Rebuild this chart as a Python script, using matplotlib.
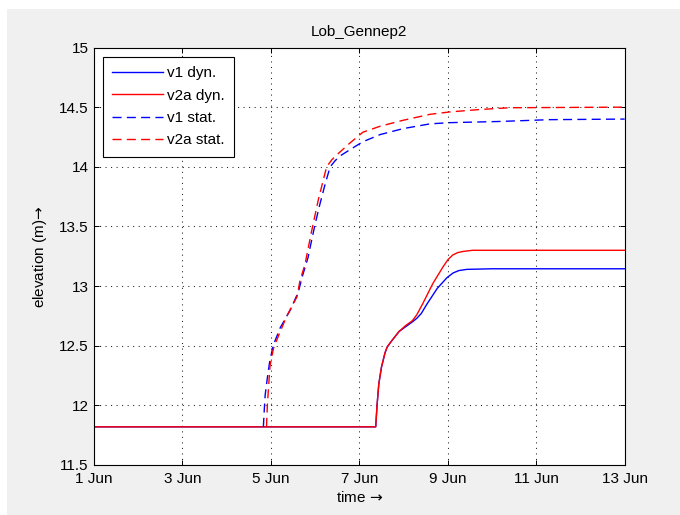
import matplotlib
matplotlib.use("Agg")
import matplotlib.pyplot as plt
from matplotlib.patches import Rectangle
import numpy as np

plt.rcParams['font.family'] = ['Liberation Sans', 'DejaVu Sans']

title = "Lob_Gennep2"
xlabel = "time $\\!\\rightarrow$"
ylabel = "elevation (m)$\\!\\rightarrow$"
xtick_days = [0, 2, 4, 6, 8, 10, 12]
xtick_labels = ["1 Jun", "3 Jun", "5 Jun", "7 Jun", "9 Jun", "11 Jun", "13 Jun"]
ytick_vals = [11.5, 12, 12.5, 13, 13.5, 14, 14.5, 15]
ytick_labels = ["11.5", "12", "12.5", "13", "13.5", "14", "14.5", "15"]

# days after 1 Jun
v1_dyn_t = [0, 6.37, 6.40, 6.44, 6.50, 6.58, 6.63, 6.75, 6.90, 7.05, 7.20, 7.30, 7.40,
            7.53, 7.76, 7.98, 8.12, 8.25, 8.43, 9.0, 12.0]
v1_dyn_h = [11.82, 11.82, 12.00, 12.18, 12.32, 12.44, 12.49, 12.55, 12.62, 12.66, 12.70, 12.73, 12.77,
            12.85, 12.98, 13.07, 13.11, 13.13, 13.14, 13.145, 13.145]

v2a_dyn_t = [0, 6.37, 6.40, 6.44, 6.50, 6.58, 6.63, 6.75, 6.90, 7.05, 7.20, 7.30, 7.43,
             7.66, 7.89, 8.00, 8.11, 8.22, 8.34, 8.56, 12.0]
v2a_dyn_h = [11.82, 11.82, 12.00, 12.18, 12.32, 12.44, 12.49, 12.55, 12.62, 12.67, 12.71, 12.76, 12.85,
             13.02, 13.16, 13.22, 13.26, 13.28, 13.29, 13.30, 13.30]

v1_stat_t = [3.83, 3.85, 3.87, 3.92, 3.97, 4.05, 4.21, 4.44, 4.62, 4.71, 4.84, 4.89,
             5.00, 5.11, 5.23, 5.34, 5.45, 5.56, 5.86, 6.08, 6.47, 6.99, 7.60, 8.05,
             9.18, 10.30, 12.0]
v1_stat_h = [11.82, 11.96, 12.085, 12.23, 12.36, 12.50, 12.65, 12.80, 12.95, 13.08, 13.24, 13.33,
             13.52, 13.69, 13.86, 14.00, 14.05, 14.09, 14.16, 14.21, 14.27, 14.32, 14.36, 14.37,
             14.38, 14.395, 14.40]

v2a_stat_t = [3.90, 3.92, 3.95, 3.98, 4.06, 4.19, 4.36, 4.59, 4.66, 4.77, 4.92, 5.07,
              5.26, 5.38, 5.49, 5.79, 6.08, 6.47, 6.99, 7.60, 8.05, 8.72, 9.40, 12.0]
v2a_stat_h = [11.82, 12.00, 12.17, 12.33, 12.48, 12.60, 12.75, 12.91, 13.05, 13.18, 13.46, 13.72,
              14.00, 14.06, 14.10, 14.20, 14.29, 14.34, 14.39, 14.44, 14.46, 14.48, 14.495, 14.50]

W, H = 680, 515
fig = plt.figure(figsize=(W / 100, H / 100), dpi=100, facecolor='white')
fig.patches.append(Rectangle((7 / W, 0), 1 - 7 / W, 1 - 9 / H, transform=fig.transFigure,
                             facecolor='#f0f0f0', edgecolor='none', zorder=-10))

left, right, bottom, top = 94, 624.7, 465, 47.5
ax = fig.add_axes([left / W, (H - bottom) / H, (right - left) / W, (bottom - top) / H])
ax.set_facecolor('white')

fs = 11
lw = 1.0
ax.plot(v1_dyn_t, v1_dyn_h, color='#0000ff', lw=lw, label='v1 dyn.')
ax.plot(v2a_dyn_t, v2a_dyn_h, color='#ff0000', lw=lw, label='v2a dyn.')
ax.plot(v1_stat_t, v1_stat_h, color='#0000ff', lw=lw, dashes=(6.5, 3.8), label='v1 stat.')
ax.plot(v2a_stat_t, v2a_stat_h, color='#ff0000', lw=lw, dashes=(6.5, 3.8), label='v2a stat.')

ax.set_xlim(0, 12)
ax.set_ylim(11.5, 15)
ax.set_xticks(xtick_days)
ax.set_xticklabels(xtick_labels, fontsize=fs)
ax.set_yticks(ytick_vals)
ax.set_yticklabels(ytick_labels, fontsize=fs)
ax.tick_params(direction='in', length=3.5, width=0.7, top=True, right=True, colors='black')
ax.tick_params(axis='x', pad=5)
ax.tick_params(axis='y', pad=4)
ax.grid(True, color='#202020', linewidth=0.75, dashes=(1, 4.3))
for s in ax.spines.values():
    s.set_linewidth(0.8)
    s.set_color('black')

ax.set_title(title, fontsize=fs, pad=8)
ax.set_xlabel(xlabel, fontsize=fs, labelpad=3)
ax.set_ylabel(ylabel, fontsize=fs, labelpad=7)

leg = ax.legend(loc='upper left', bbox_to_anchor=(9 / (right - left), 1 - 9.5 / (bottom - top)),
                fontsize=fs, frameon=True, fancybox=False, framealpha=1, edgecolor='black',
                handlelength=3.3, handletextpad=0.3, labelspacing=0.55, borderpad=0.6,
                borderaxespad=0)
leg.get_frame().set_linewidth(0.8)

fig.savefig('out.png', dpi=100, facecolor=fig.get_facecolor())
